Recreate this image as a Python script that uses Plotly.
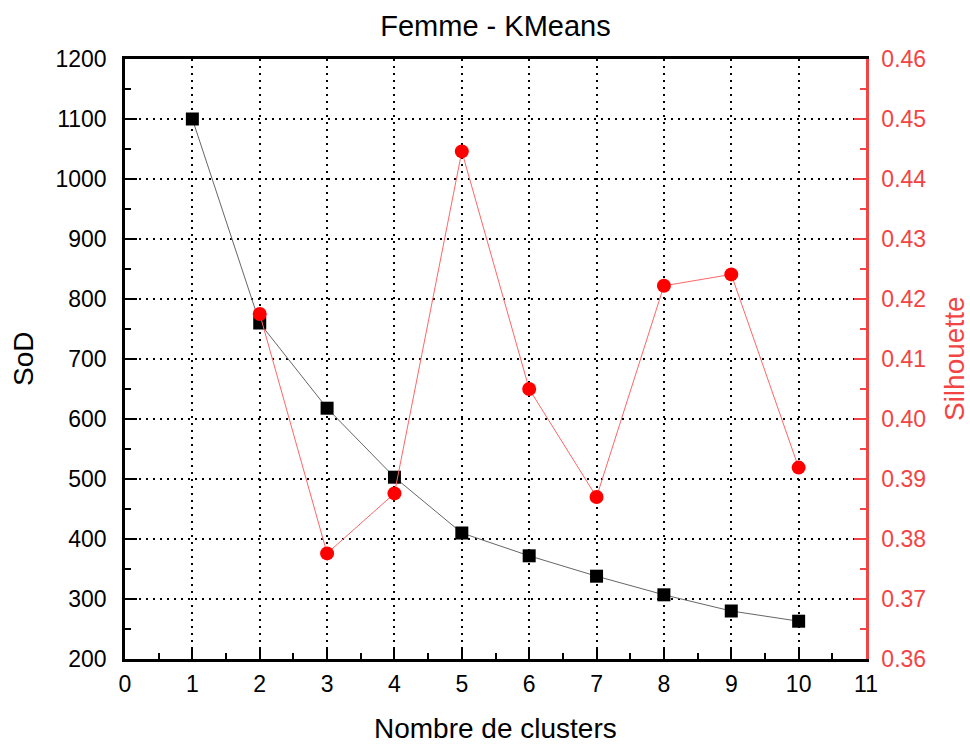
import plotly.graph_objects as go

clusters = [1, 2, 3, 4, 5, 6, 7, 8, 9, 10]
sod = [1100, 760, 618, 503, 410, 372, 338, 307, 280, 263]
sil_clusters = [2, 3, 4, 5, 6, 7, 8, 9, 10]
silhouette = [0.4175, 0.3776, 0.3876, 0.4446, 0.4050, 0.3870, 0.4222, 0.4241, 0.3919]

FONT = "Liberation Sans, Arial, sans-serif"
RED = "#ff0000"
AXRED = "#f24444"

fig = go.Figure()
fig.add_trace(go.Scatter(
    x=clusters, y=sod, mode="lines+markers", name="SoD",
    line=dict(color="#666666", width=1),
    marker=dict(symbol="square", size=13, color="black"),
    yaxis="y"))
fig.add_trace(go.Scatter(
    x=sil_clusters, y=silhouette, mode="lines+markers", name="Silhouette",
    line=dict(color="#ff6666", width=1),
    marker=dict(symbol="circle", size=14, color=RED),
    yaxis="y2"))

fig.update_layout(
    width=970, height=747,
    margin=dict(l=125, r=104, t=59, b=88, autoexpand=False),
    plot_bgcolor="white", paper_bgcolor="white",
    showlegend=False,
    font=dict(family=FONT, color="black", size=23),
    title=dict(text="Femme - KMeans", xref="paper", x=0.5, xanchor="center",
               yref="container", y=0.9652, yanchor="middle",
               font=dict(size=29, family=FONT)),
    xaxis=dict(
        range=[0, 11], tickmode="linear", tick0=0, dtick=1,
        ticks="inside", ticklen=12, tickwidth=2, tickcolor="black",
        minor=dict(ticks="inside", ticklen=6, tickwidth=2, dtick=0.5, tick0=0, tickcolor="black", showgrid=False),
        showline=True, linecolor="black", linewidth=2.5, mirror=True,
        showgrid=True, gridcolor="black", gridwidth=1.5, griddash="2px,5px",
        zeroline=False, automargin=False,
        tickfont=dict(size=23), ticklabelstandoff=3,
    ),
    yaxis=dict(
        range=[200, 1200], tickmode="linear", tick0=200, dtick=100,
        ticks="inside", ticklen=12, tickwidth=2, tickcolor="black",
        minor=dict(ticks="inside", ticklen=6, tickwidth=2, dtick=50, tick0=200, tickcolor="black", showgrid=False),
        showline=True, linecolor="black", linewidth=2.5, mirror=False,
        showgrid=True, gridcolor="black", gridwidth=1.5, griddash="2px,5px",
        zeroline=False, automargin=False,
        tickfont=dict(size=23), ticklabelstandoff=11,
    ),
    yaxis2=dict(
        range=[0.36, 0.46], tickmode="linear", tick0=0.36, dtick=0.01, tickformat=".2f",
        overlaying="y", side="right",
        ticks="inside", ticklen=12, tickwidth=2, tickcolor=AXRED,
        minor=dict(ticks="inside", ticklen=6, tickwidth=2, dtick=0.005, tick0=0.36, tickcolor=AXRED, showgrid=False),
        showline=True, linecolor=AXRED, linewidth=2.5,
        showgrid=False, zeroline=False, automargin=False,
        tickfont=dict(size=23, color=AXRED), ticklabelstandoff=8,
    ),
    annotations=[
        dict(text="Nombre de clusters", xref="paper", yref="paper", x=0.5, y=-0.115,
             xanchor="center", yanchor="middle", showarrow=False, font=dict(size=28, color="black")),
        dict(text="SoD", xref="paper", yref="paper", x=-0.1377, y=0.5, textangle=-90,
             xanchor="center", yanchor="middle", showarrow=False, font=dict(size=28, color="black")),
        dict(text="Silhouette", xref="paper", yref="paper", x=1.1188, y=0.5, textangle=-90,
             xanchor="center", yanchor="middle", showarrow=False, font=dict(size=28, color=AXRED)),
    ],
)

fig.write_html("out.html", config={"displayModeBar": False},
               post_script="document.body.style.margin='0';document.body.style.overflow='hidden';")
